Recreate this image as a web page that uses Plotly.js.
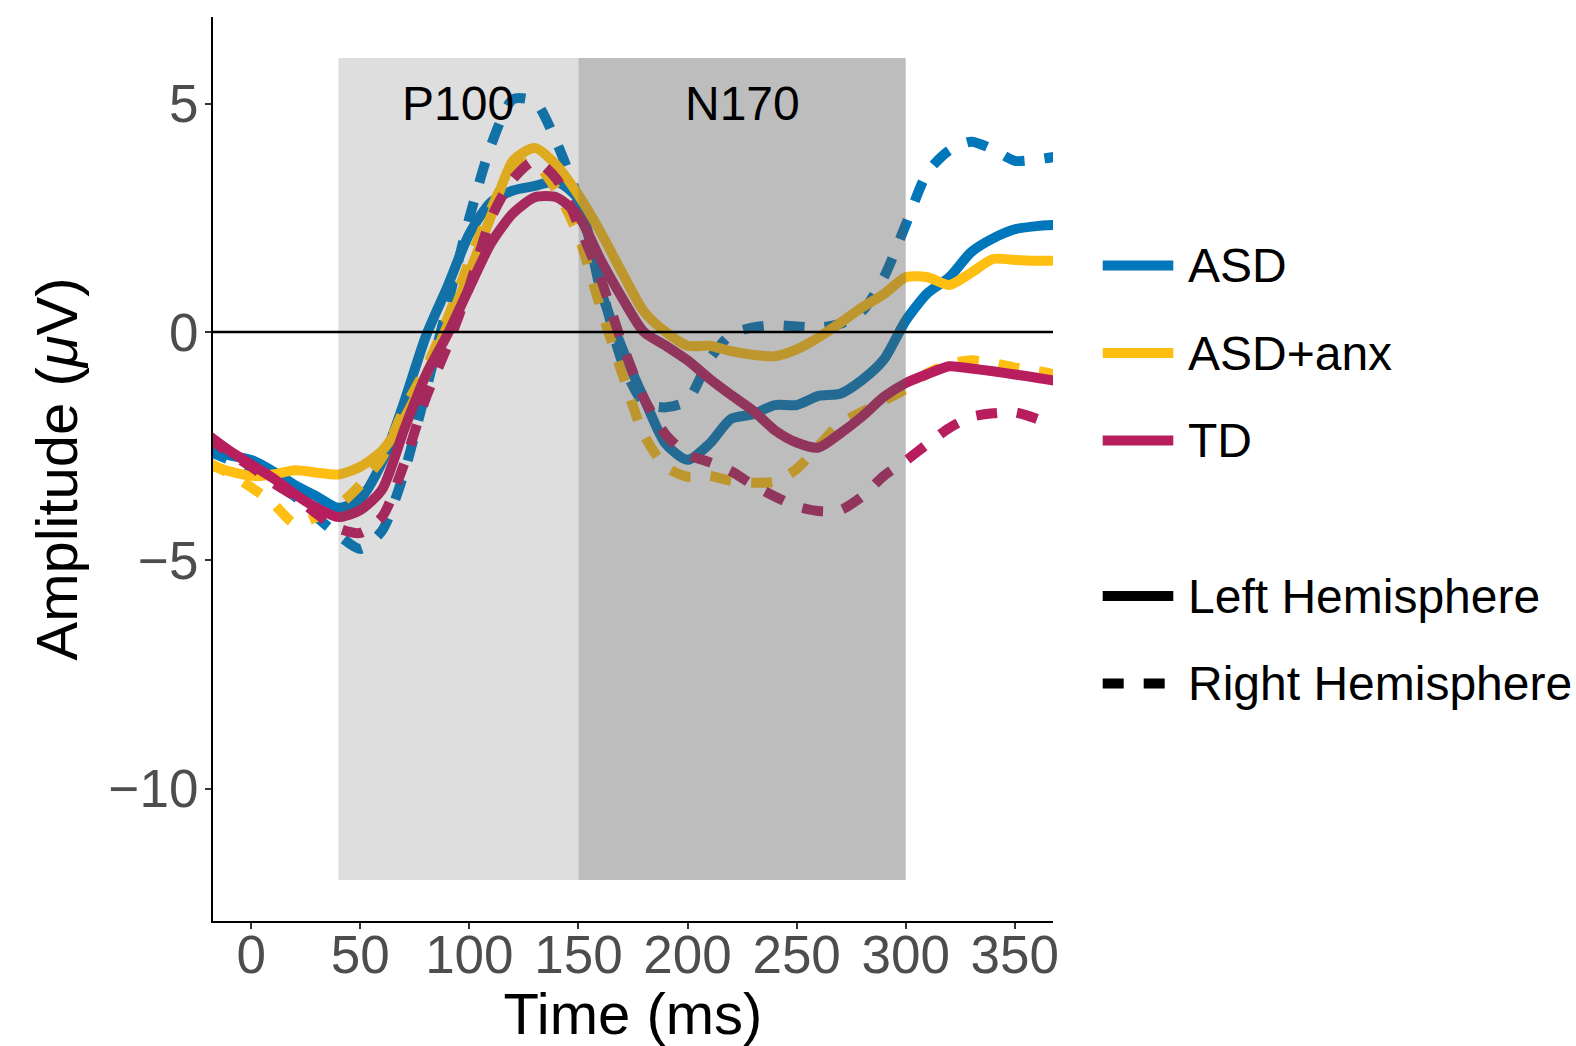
<!DOCTYPE html>
<html>
<head>
<meta charset="utf-8">
<script src="https://cdn.plot.ly/plotly-3.0.1.min.js"></script>
<style>
html,body{margin:0;padding:0;background:#ffffff;}
#chart{width:1576px;height:1046px;}
</style>
</head>
<body>
<div id="chart"></div>
<script>
// ---------------- data ----------------
const time = [-20,-10,0,10,20,30,40,50,60,70,80,90,100,110,120,130,140,150,160,170,180,190,200,210,220,230,240,250,260,270,280,290,300,310,320,330,340,350,360,370];

const groups = ["ASD", "ASD+anx", "TD"];
const hemispheres = ["Left Hemisphere", "Right Hemisphere"];

const asdLeft  = [-2.5,-2.7,-2.8,-3.05,-3.35,-3.6,-3.85,-3.65,-2.85,-1.55,-0.1,1.0,2.15,2.85,3.1,3.2,3.3,2.9,0.95,-0.35,-1.45,-2.45,-2.8,-2.45,-1.9,-1.8,-1.6,-1.6,-1.4,-1.35,-1.05,-0.6,0.25,0.85,1.2,1.75,2.05,2.25,2.32,2.35];
const asdRight = [-2.6,-2.8,-3.0,-3.3,-3.6,-4.05,-4.45,-4.75,-4.35,-3.1,-1.3,0.6,2.5,4.1,5.1,5.05,4.15,2.9,1.1,-0.65,-1.55,-1.65,-1.5,-0.6,-0.05,0.1,0.15,0.12,0.1,0.18,0.45,1.2,2.35,3.5,3.98,4.17,4.0,3.75,3.78,3.85];
const anxLeft  = [-2.9,-3.05,-3.15,-3.12,-3.03,-3.08,-3.12,-2.95,-2.6,-1.9,-0.95,0.15,1.3,2.55,3.75,4.03,3.65,3.0,2.2,1.3,0.45,0.0,-0.3,-0.3,-0.42,-0.5,-0.53,-0.38,-0.12,0.2,0.54,0.83,1.2,1.2,1.03,1.3,1.6,1.58,1.56,1.56];
const anxRight = [-2.85,-3.1,-3.4,-3.75,-4.2,-4.05,-3.8,-3.35,-2.75,-1.7,-0.8,0.3,1.55,2.7,3.6,3.7,3.1,2.1,0.55,-0.9,-2.25,-2.95,-3.17,-3.15,-3.26,-3.3,-3.28,-3.0,-2.5,-2.0,-1.75,-1.5,-1.25,-0.9,-0.7,-0.62,-0.68,-0.78,-0.85,-0.95];
const tdLeft   = [-2.25,-2.6,-2.9,-3.2,-3.55,-3.85,-4.05,-3.9,-3.45,-2.15,-0.95,-0.05,0.97,1.95,2.6,2.95,2.95,2.55,1.6,0.75,0.0,-0.3,-0.62,-1.02,-1.38,-1.72,-2.15,-2.42,-2.53,-2.22,-1.85,-1.42,-1.12,-0.92,-0.75,-0.8,-0.86,-0.93,-1.0,-1.08];
const tdRight  = [-2.3,-2.65,-2.95,-3.3,-3.6,-3.98,-4.3,-4.4,-4.05,-2.9,-1.45,-0.3,1.0,2.5,3.35,3.75,3.35,2.35,1.2,-0.25,-1.45,-2.25,-2.68,-2.85,-3.05,-3.35,-3.6,-3.82,-3.92,-3.9,-3.6,-3.15,-2.82,-2.45,-2.1,-1.86,-1.78,-1.76,-1.9,-2.1];

const seriesByGroup = [[asdLeft, asdRight], [anxLeft, anxRight], [tdLeft, tdRight]];

const components = ["P100", "N170"];
const componentStart = [40, 150];
const componentEnd = [150, 300];
const componentLabelY = 5;

const xTicks = [0, 50, 100, 150, 200, 250, 300, 350];
const yTicks = [-10, -5, 0, 5];
const xLimits = [0, 350];
const yLimits = [-12, 6];

// ---------------- styles ----------------
const groupColors = ["#0077BB", "#FFBE12", "#B81D5E"];
const hemiDash = ["solid", "21px,20px"];
const lineW = 10;
const FONT = "Liberation Sans, Arial, Helvetica, sans-serif";
const shadeFill = ["rgba(89,89,89,0.2)", "rgba(89,89,89,0.4)"];

// ---------------- geometry ----------------
const W = 1576, H = 1046;
const M = {l: 213, r: 523, t: 17, b: 125};
const pw = W - M.l - M.r, ph = H - M.t - M.b;
const px = X => (X - M.l) / pw;
const py = Y => (H - M.b - Y) / ph;

function expand(lim, f) { const d = (lim[1] - lim[0]) * f; return [lim[0] - d, lim[1] + d]; }

// ---------------- traces ----------------
const traces = [];
groups.forEach((g, gi) => {
  hemispheres.forEach((h, hi) => {
    traces.push({
      type: "scatter",
      mode: "lines",
      name: g + " " + h,
      x: time,
      y: seriesByGroup[gi][hi],
      line: {color: groupColors[gi], width: lineW, dash: hemiDash[hi], shape: "spline", smoothing: 0.7},
      showlegend: false,
      hoverinfo: "skip"
    });
  });
});

// ---------------- shapes ----------------
const shapes = [];
components.forEach((c, i) => {
  shapes.push({type: "rect", xref: "x", yref: "y", x0: componentStart[i], x1: componentEnd[i],
    y0: yLimits[0], y1: yLimits[1], fillcolor: shadeFill[i], line: {width: 0}, layer: "above"});
});
shapes.push({type: "line", xref: "paper", yref: "y", x0: 0, x1: 1, y0: 0, y1: 0,
  line: {color: "#000000", width: 2.5}, layer: "above"});

// manual legend
const legendRowsY = [265.5, 353, 440.5, 596, 683.5];
const keyX0 = 1102.7, keyX1 = 1173.3, textX = 1186;
const annotations = [];
components.forEach((c, i) => {
  annotations.push({xref: "x", yref: "y", x: (componentStart[i] + componentEnd[i]) / 2, y: componentLabelY,
    text: c, showarrow: false, xanchor: "center", yanchor: "middle",
    font: {family: FONT, size: 48, color: "#000000"}});
});
const legendEntries = [];
groups.forEach((g, gi) => legendEntries.push({label: g, color: groupColors[gi], dash: "solid"}));
hemispheres.forEach((h, hi) => legendEntries.push({label: h, color: "#000000", dash: hemiDash[hi]}));
legendEntries.forEach((e, i) => {
  const yy = py(legendRowsY[i]);
  shapes.push({type: "line", xref: "paper", yref: "paper", x0: px(keyX0), x1: px(keyX1), y0: yy, y1: yy,
    line: {color: e.color, width: lineW, dash: e.dash}, layer: "above"});
  annotations.push({xref: "paper", yref: "paper", x: px(textX), y: yy, text: e.label, showarrow: false,
    xanchor: "left", yanchor: "middle", font: {family: FONT, size: 48, color: "#000000"}});
});

// ---------------- layout ----------------
const axisCommon = {
  showgrid: false, zeroline: false, showline: true, linecolor: "#000000", linewidth: 2,
  ticks: "outside", ticklen: 6, tickwidth: 2, tickcolor: "#333333",
  tickfont: {family: FONT, size: 53, color: "#4D4D4D"}, automargin: false
};

const layout = {
  width: W, height: H,
  margin: M,
  paper_bgcolor: "#ffffff", plot_bgcolor: "#ffffff",
  font: {family: FONT},
  showlegend: false,
  xaxis: Object.assign({}, axisCommon, {
    range: expand(xLimits, 0.05), tickmode: "array", tickvals: xTicks, ticklabelstandoff: -20,
    title: {text: "Time (ms)", font: {family: FONT, size: 58, color: "#000000"}, standoff: 29}
  }),
  yaxis: Object.assign({}, axisCommon, {
    range: expand(yLimits, 0.05), tickmode: "array", tickvals: yTicks, ticklabelstandoff: -4,
    title: {text: "Amplitude (<i>μ</i>V)", font: {family: FONT, size: 58, color: "#000000"}, standoff: 12}
  }),
  shapes: shapes,
  annotations: annotations
};

Plotly.newPlot("chart", traces, layout, {staticPlot: true, displayModeBar: false});
</script>
</body>
</html>
